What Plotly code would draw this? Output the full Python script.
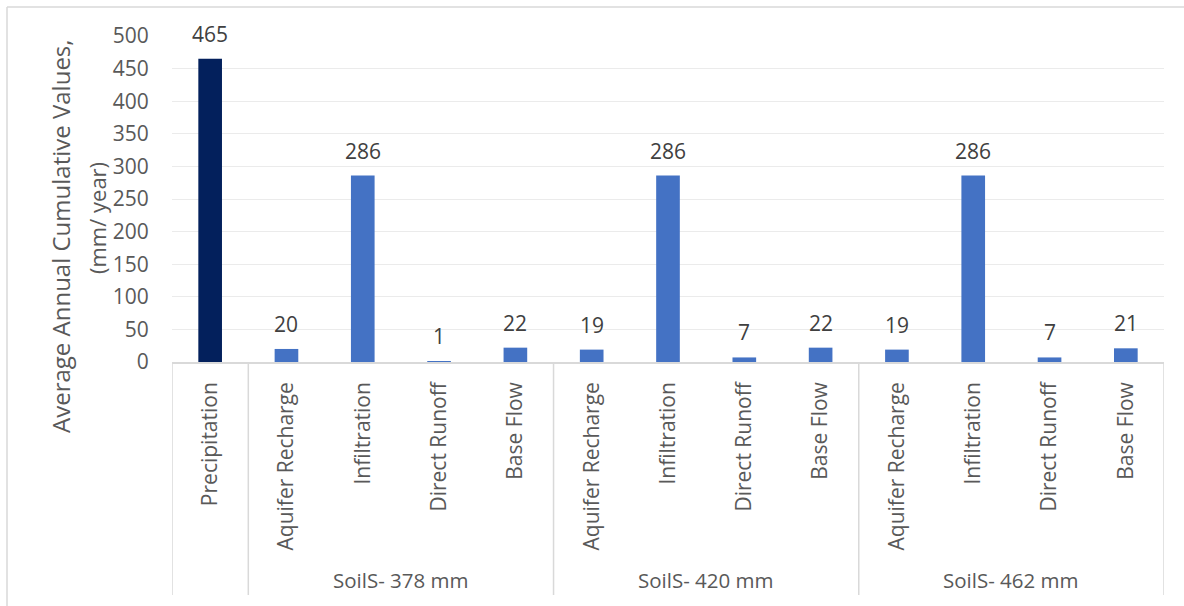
import plotly.graph_objects as go

categories = ["Precipitation",
              "Aquifer Recharge", "Infiltration", "Direct Runoff", "Base Flow",
              "Aquifer Recharge", "Infiltration", "Direct Runoff", "Base Flow",
              "Aquifer Recharge", "Infiltration", "Direct Runoff", "Base Flow"]
values = [465, 20, 286, 1, 22, 19, 286, 7, 22, 19, 286, 7, 21]
groups = ["SoilS- 378 mm", "SoilS- 420 mm", "SoilS- 462 mm"]
group_spans = [(1, 4), (5, 8), (9, 12)]
colors = ["#03205C"] + ["#4472C4"] * 12

W, H = 1184, 606
L, R, T, B = 172, 20, 36, 244
pw, ph = W - L - R, H - T - B

def px_x(p):
    return (p - L) / pw

def px_y(p):
    return (H - B - p) / ph

FONT = "Open Sans"
GRAY = "#595959"

xs = list(range(len(categories)))
fig = go.Figure(go.Bar(
    x=xs, y=values, width=0.31, marker=dict(color=colors, line=dict(width=0)),
    cliponaxis=False,
))

shapes = []
dividers = [-0.5, 0.5, 4.5, 8.5, 12.5]
for d in dividers:
    shapes.append(dict(type="line", xref="x", yref="paper", x0=d, x1=d,
                       y0=0, y1=px_y(595), line=dict(color="#D9D9D9", width=1.5)))
# outer chart border (left and top)
shapes.append(dict(type="line", xref="paper", yref="paper", x0=px_x(7), x1=px_x(7),
                   y0=px_y(7), y1=px_y(606), line=dict(color="#D9D9D9", width=1.5)))
shapes.append(dict(type="line", xref="paper", yref="paper", x0=px_x(7), x1=px_x(1184),
                   y0=px_y(7), y1=px_y(7), line=dict(color="#D9D9D9", width=1.5)))

annotations = []
for x, v in zip(xs, values):
    annotations.append(dict(text=str(v), x=x, y=v, xref="x", yref="y",
                            showarrow=False, yanchor="bottom", xanchor="center",
                            yshift=9, font=dict(family=FONT, size=21, color="#404040")))
for g, (a, b) in zip(groups, group_spans):
    annotations.append(dict(text=g, xref="x", yref="paper", x=(a + b) / 2, y=px_y(580),
                            showarrow=False, font=dict(family=FONT, size=20.5, color=GRAY),
                            xanchor="center", yanchor="middle"))
annotations.append(dict(text="Average Annual Cumulative Values,",
                        xref="paper", yref="paper", x=px_x(60), y=px_y(236),
                        textangle=-90, showarrow=False,
                        font=dict(family=FONT, size=24, color=GRAY),
                        xanchor="center", yanchor="middle"))
annotations.append(dict(text="(mm/ year)",
                        xref="paper", yref="paper", x=px_x(97), y=px_y(218),
                        textangle=-90, showarrow=False,
                        font=dict(family=FONT, size=22, color=GRAY),
                        xanchor="center", yanchor="middle"))

fig.update_layout(
    width=W, height=H,
    margin=dict(l=L, r=R, t=T, b=B),
    paper_bgcolor="white", plot_bgcolor="white",
    showlegend=False,
    shapes=shapes, annotations=annotations,
    xaxis=dict(range=[-0.5, 12.5], tickmode="array", tickvals=xs, ticktext=categories,
               tickangle=-90, tickfont=dict(family=FONT, size=21, color=GRAY),
               ticks="outside", ticklen=10, tickcolor="rgba(0,0,0,0)",
               showgrid=False, zeroline=False, showline=True, linecolor="#D9D9D9",
               linewidth=1.5),
    yaxis=dict(range=[0, 500], tickvals=list(range(0, 501, 50)),
               tickfont=dict(family=FONT, size=21, color=GRAY),
               showgrid=True, gridcolor="#EBEBEB", gridwidth=1,
               zeroline=False, showline=False, ticks="outside", ticklen=18,
               tickcolor="rgba(0,0,0,0)"),
)

fig.write_html("out.html")
